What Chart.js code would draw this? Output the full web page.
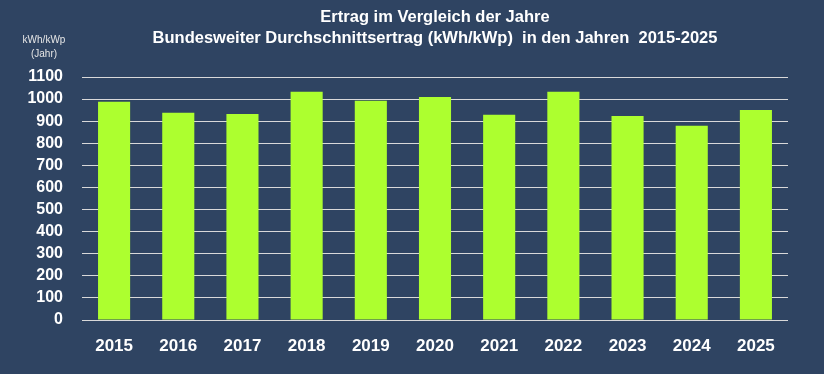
<!DOCTYPE html>
<html>
<head>
<meta charset="utf-8">
<script src="https://cdn.jsdelivr.net/npm/chart.js@4"></script>
<style>
  html, body { margin: 0; padding: 0; background: #2f4462; }
  #wrap { width: 824px; height: 374px; }
</style>
</head>
<body>
<div id="wrap"><canvas id="myChart" width="824" height="374"></canvas></div>
<script>
const years = ['2015', '2016', '2017', '2018', '2019', '2020', '2021', '2022', '2023', '2024', '2025'];
const yieldValues = [988, 938, 933, 1033, 992, 1010, 929, 1033, 924, 879, 951];
const titleLines = ['Ertrag im Vergleich der Jahre', 'Bundesweiter Durchschnittsertrag (kWh/kWp)  in den Jahren  2015-2025'];
const unitLines = ['kWh/kWp', '(Jahr)'];

// title + unit text, centered over the plot area like the original
const headerText = {
    id: 'headerText',
    afterDraw(chart) {
        const c = chart.ctx;
        const area = chart.chartArea;
        const mid = (area.left + area.right) / 2;
        c.save();
        c.fillStyle = '#ffffff';
        c.textAlign = 'center';
        c.textBaseline = 'middle';
        c.font = 'bold 16.5px "Liberation Sans", Arial, sans-serif';
        c.fillText(titleLines[0], mid, 17);
        c.fillText(titleLines[1], mid, 38);
        c.fillStyle = '#e6e6e6';
        c.font = '10px "Liberation Sans", Arial, sans-serif';
        c.fillText(unitLines[0], 44, 40);
        c.fillText(unitLines[1], 44, 54);
        c.restore();
    }
};

const ctx = document.getElementById('myChart');

new Chart(ctx, {
type: 'bar',
data: {
    labels: years,
    datasets: [{
        data: yieldValues,
        backgroundColor: '#adff2f',
        barPercentage: 0.5,
        categoryPercentage: 1,
    }]
},
options: {
    responsive: false,
    animation: false,
    layout: {
        padding: { top: 77, right: 36, left: 0, bottom: 0 }
    },
    scales: {
        x: {
            grid: { display: false },
            border: { display: false },
            ticks: {
                color: '#ffffff',
                padding: 8,
                autoSkip: false,
                maxRotation: 0,
                font: { family: '"Liberation Sans", Arial, sans-serif', size: 17, weight: 'bold' }
            },
            afterFit(scale) { scale.height = 54; }
        },
        y: {
            min: 0,
            max: 1100,
            border: { display: false },
            grid: { color: '#d9d9d9', lineWidth: 1, drawTicks: false },
            ticks: {
                stepSize: 100,
                autoSkip: false,
                color: '#ffffff',
                padding: 19,
                callback: v => String(v),
                font: { family: '"Liberation Sans", Arial, sans-serif', size: 16, weight: 'bold' }
            },
            afterFit(scale) { scale.width = 82; }
        }
    },
    plugins: {
        tooltip: { enabled: false },
        legend: { display: false }
    }
},
plugins: [headerText]
});
</script>
</body>
</html>
